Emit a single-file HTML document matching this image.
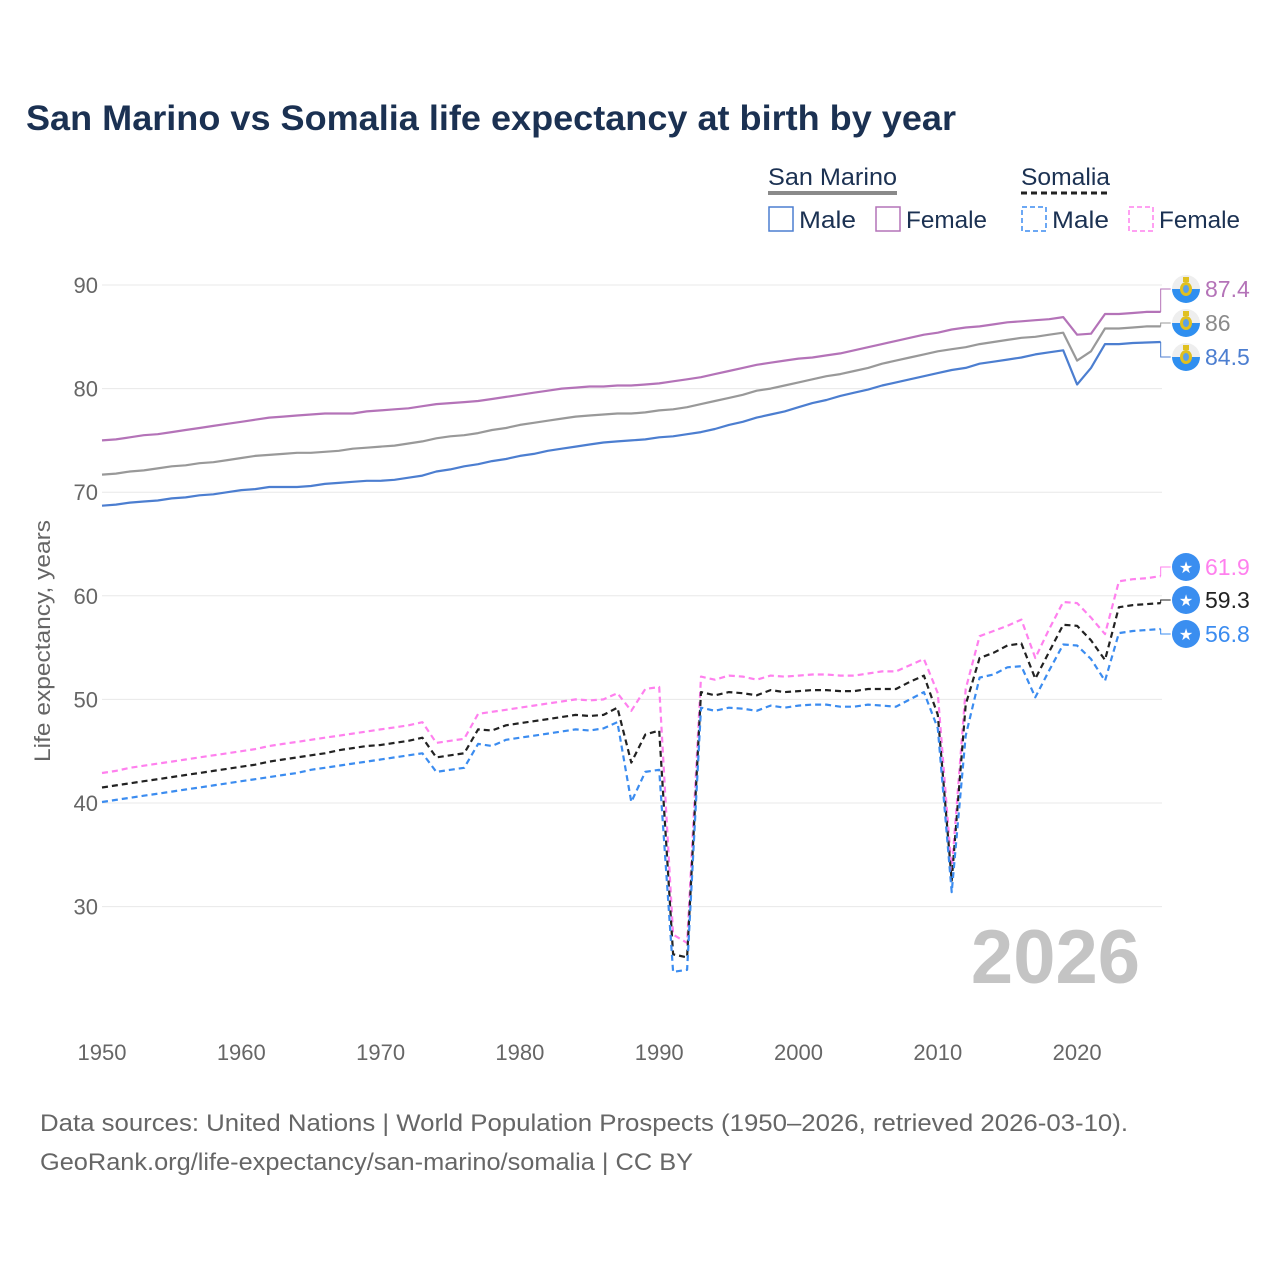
<!DOCTYPE html>
<html><head><meta charset="utf-8">
<style>
body{margin:0;background:#fff;font-family:"Liberation Sans",sans-serif;}
svg{display:block}
text{font-family:"Liberation Sans",sans-serif}
</style></head>
<body>
<svg id="chart" width="1280" height="1280" viewBox="0 0 1280 1280">
<text x="26" y="130" font-size="35" font-weight="bold" fill="#1b3152" textLength="930" lengthAdjust="spacingAndGlyphs">San Marino vs Somalia life expectancy at birth by year</text>
<g font-size="24" fill="#1b3152">
<text x="768" y="185" textLength="129" lengthAdjust="spacingAndGlyphs">San Marino</text>
<line x1="768" y1="193" x2="897" y2="193" stroke="#8a8a8a" stroke-width="4"/>
<text x="1021" y="185" textLength="89" lengthAdjust="spacingAndGlyphs">Somalia</text>
<line x1="1021" y1="193" x2="1111" y2="193" stroke="#222" stroke-width="3" stroke-dasharray="6,4"/>
<rect x="769" y="207" width="24" height="24" fill="none" stroke="#4c7ed0" stroke-width="1.5"/>
<text x="799" y="228" textLength="57" lengthAdjust="spacingAndGlyphs">Male</text>
<rect x="876" y="207" width="24" height="24" fill="none" stroke="#b473b8" stroke-width="1.5"/>
<text x="906" y="228" textLength="81" lengthAdjust="spacingAndGlyphs">Female</text>
<rect x="1022" y="207" width="24" height="24" fill="none" stroke="#3b8cf0" stroke-width="1.5" stroke-dasharray="5,3"/>
<text x="1052" y="228" textLength="57" lengthAdjust="spacingAndGlyphs">Male</text>
<rect x="1129" y="207" width="24" height="24" fill="none" stroke="#ff80ee" stroke-width="1.5" stroke-dasharray="5,3"/>
<text x="1159" y="228" textLength="81" lengthAdjust="spacingAndGlyphs">Female</text>
</g>
<text transform="translate(50,641) rotate(-90)" text-anchor="middle" font-size="22" fill="#666" textLength="242" lengthAdjust="spacingAndGlyphs">Life expectancy, years</text>
<g id="grid"></g>
<text x="1140" y="983" text-anchor="end" font-size="76" font-weight="bold" fill="#c4c4c4">2026</text>
<g id="series"></g>
<g id="labels"></g>
<text x="40" y="1131" font-size="24" fill="#666" textLength="1088" lengthAdjust="spacingAndGlyphs">Data sources: United Nations | World Population Prospects (1950–2026, retrieved 2026-03-10).</text>
<text x="40" y="1170" font-size="24" fill="#666" textLength="653" lengthAdjust="spacingAndGlyphs">GeoRank.org/life-expectancy/san-marino/somalia | CC BY</text>
</svg>
<script>
const startYear = 1950;
const xTicks = [1950,1960,1970,1980,1990,2000,2010,2020];
const yTicks = [30,40,50,60,70,80,90];
const smMale = [68.7,68.8,69.0,69.1,69.2,69.4,69.5,69.7,69.8,70.0,
70.2,70.3,70.5,70.5,70.5,70.6,70.8,70.9,71.0,71.1,
71.1,71.2,71.4,71.6,72.0,72.2,72.5,72.7,73.0,73.2,
73.5,73.7,74.0,74.2,74.4,74.6,74.8,74.9,75.0,75.1,
75.3,75.4,75.6,75.8,76.1,76.5,76.8,77.2,77.5,77.8,
78.2,78.6,78.9,79.3,79.6,79.9,80.3,80.6,80.9,81.2,
81.5,81.8,82.0,82.4,82.6,82.8,83.0,83.3,83.5,83.7,
80.4,82.0,84.3,84.3,84.4,84.45,84.5];
const smTotal = [71.7,71.8,72.0,72.1,72.3,72.5,72.6,72.8,72.9,73.1,
73.3,73.5,73.6,73.7,73.8,73.8,73.9,74.0,74.2,74.3,
74.4,74.5,74.7,74.9,75.2,75.4,75.5,75.7,76.0,76.2,
76.5,76.7,76.9,77.1,77.3,77.4,77.5,77.6,77.6,77.7,
77.9,78.0,78.2,78.5,78.8,79.1,79.4,79.8,80.0,80.3,
80.6,80.9,81.2,81.4,81.7,82.0,82.4,82.7,83.0,83.3,
83.6,83.8,84.0,84.3,84.5,84.7,84.9,85.0,85.2,85.4,
82.7,83.6,85.8,85.8,85.9,86.0,86.0];
const smFemale = [75.0,75.1,75.3,75.5,75.6,75.8,76.0,76.2,76.4,76.6,
76.8,77.0,77.2,77.3,77.4,77.5,77.6,77.6,77.6,77.8,
77.9,78.0,78.1,78.3,78.5,78.6,78.7,78.8,79.0,79.2,
79.4,79.6,79.8,80.0,80.1,80.2,80.2,80.3,80.3,80.4,
80.5,80.7,80.9,81.1,81.4,81.7,82.0,82.3,82.5,82.7,
82.9,83.0,83.2,83.4,83.7,84.0,84.3,84.6,84.9,85.2,
85.4,85.7,85.9,86.0,86.2,86.4,86.5,86.6,86.7,86.9,
85.2,85.3,87.2,87.2,87.3,87.4,87.4];
const soMale = [40.1,40.3,40.5,40.7,40.9,41.1,41.3,41.5,41.7,41.9,
42.1,42.3,42.5,42.7,42.9,43.2,43.4,43.6,43.8,44.0,
44.2,44.4,44.6,44.8,43.0,43.2,43.4,45.7,45.5,46.1,
46.3,46.5,46.7,46.9,47.1,47.0,47.2,47.8,40.1,43.0,
43.2,23.7,23.9,49.2,48.9,49.2,49.1,48.9,49.4,49.2,
49.4,49.5,49.5,49.3,49.3,49.5,49.4,49.3,50.0,50.7,
47.2,31.4,46.5,52.1,52.4,53.1,53.2,50.2,52.8,55.3,
55.2,53.9,51.8,56.4,56.6,56.7,56.8];
const soTotal = [41.5,41.7,41.9,42.1,42.3,42.5,42.7,42.9,43.1,43.3,
43.5,43.7,44.0,44.2,44.4,44.6,44.8,45.1,45.3,45.5,
45.6,45.8,46.0,46.3,44.4,44.6,44.8,47.1,47.0,47.5,
47.7,47.9,48.1,48.3,48.5,48.4,48.5,49.2,43.9,46.6,
47.0,25.4,25.1,50.7,50.4,50.7,50.6,50.4,50.9,50.7,
50.8,50.9,50.9,50.8,50.8,51.0,51.0,51.0,51.7,52.3,
48.5,32.5,49.5,54.0,54.5,55.2,55.4,52.0,54.6,57.2,
57.1,55.7,53.8,58.9,59.1,59.2,59.3];
const soFemale = [42.9,43.1,43.4,43.6,43.8,44.0,44.2,44.4,44.6,44.8,
45.0,45.2,45.5,45.7,45.9,46.1,46.3,46.5,46.7,46.9,
47.1,47.3,47.5,47.8,45.8,46.0,46.2,48.6,48.8,49.0,
49.2,49.4,49.6,49.8,50.0,49.9,50.0,50.6,48.9,51.0,
51.2,27.3,26.5,52.2,51.9,52.3,52.2,51.9,52.3,52.2,
52.3,52.4,52.4,52.3,52.3,52.5,52.7,52.7,53.3,53.9,
50.6,33.5,51.0,56.1,56.6,57.1,57.7,54.0,56.8,59.4,
59.3,57.9,56.3,61.4,61.6,61.7,61.9];
const endLabels = ["87.4","86","84.5","61.9","59.3","56.8"];

const NS="http://www.w3.org/2000/svg";
function xs(yr){return 102+(yr-1950)*13.93;}
function ys(v){return 285+(90-v)*10.36;}
function mk(tag,attrs,parent){const e=document.createElementNS(NS,tag);for(const k in attrs)e.setAttribute(k,attrs[k]);parent.appendChild(e);return e;}
const grid=document.getElementById('grid');
yTicks.forEach(t=>{
  const l=mk('line',{x1:102,x2:1162,y1:ys(t),y2:ys(t),stroke:'#e8e8e8','stroke-width':1},grid);
  
  
  const tx=mk('text',{x:98,y:ys(t)+8,'text-anchor':'end','font-size':22,fill:'#666'},grid);
  tx.textContent=t;
  
  
});
xTicks.forEach(t=>{
  const tx=mk('text',{x:xs(t),y:1060,'text-anchor':'middle','font-size':22,fill:'#666'},grid);
  tx.textContent=t;
  
  
});
const seriesDefs=[
 {d:smFemale,c:'#b473b8',dash:null,ly:289,lc:'#b473b8',flag:'sm',n:'san-marino-female'},
 {d:smTotal,c:'#999',dash:null,ly:323,lc:'#8a8a8a',flag:'sm',n:'san-marino-total'},
 {d:smMale,c:'#4c7ed0',dash:null,ly:357,lc:'#4c7ed0',flag:'sm',n:'san-marino-male'},
 {d:soFemale,c:'#ff80ee',dash:'6,4',ly:567,lc:'#ff80ee',flag:'so',n:'somalia-female'},
 {d:soTotal,c:'#222',dash:'6,4',ly:600,lc:'#222',flag:'so',n:'somalia-total'},
 {d:soMale,c:'#3b8cf0',dash:'6,4',ly:634,lc:'#3b8cf0',flag:'so',n:'somalia-male'}
];
const sg=document.getElementById('series'), lg=document.getElementById('labels');
seriesDefs.forEach((s,i)=>{
  const pts=s.d.map((v,j)=>xs(startYear+j).toFixed(1)+','+ys(v).toFixed(1)).join(' ');
  const a={points:pts,fill:'none',stroke:s.c,'stroke-width':2.2,'stroke-linejoin':'round'};
  if(s.dash)a['stroke-dasharray']=s.dash;
  const pl=mk('polyline',a,sg);
  
  
  const lx=xs(startYear+s.d.length-1), lyv=ys(s.d[s.d.length-1]);
  const cn=mk('polyline',{points:`${lx},${lyv} ${lx},${s.ly} ${lx+10},${s.ly}`,fill:'none',stroke:s.c,'stroke-width':1},lg);
  
  
  const g=mk('g',{},lg);
  
  
  const cx=1186, cy=s.ly;
  if(s.flag==='sm'){
    mk('circle',{cx:cx,cy:cy,r:14,fill:'#eeeeee'},g);
    mk('path',{d:`M${cx-14},${cy} A14,14 0 0 0 ${cx+14},${cy} Z`,fill:'#2f8ff0'},g);
    mk('ellipse',{cx:cx,cy:cy,rx:6,ry:7,fill:'#e0c020'},g);
    mk('ellipse',{cx:cx,cy:cy,rx:3,ry:4,fill:'#5aa0e8'},g);
    mk('rect',{x:cx-3,y:cy-12,width:6,height:5,fill:'#e0c020'},g);
  } else {
    mk('circle',{cx:cx,cy:cy,r:14,fill:'#3a8ef0'},g);
    const st=mk('text',{x:cx,y:cy+6,'text-anchor':'middle','font-size':16,fill:'#fff'},g);
    st.textContent='★';
  }
  const t=mk('text',{x:1205,y:s.ly+8,'font-size':23,fill:s.lc},lg);
  t.textContent=endLabels[i];
  
  
});
</script>
</body></html>
